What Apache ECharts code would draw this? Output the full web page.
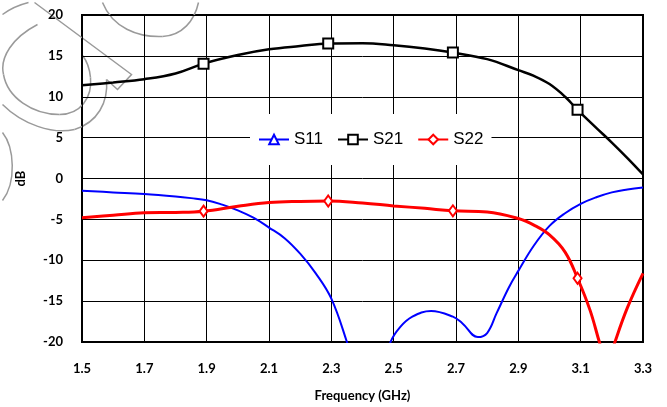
<!DOCTYPE html>
<html>
<head>
<meta charset="utf-8">
<script src="https://cdn.jsdelivr.net/npm/echarts@6/dist/echarts.min.js"></script>
<style>html,body{margin:0;padding:0;background:#fff;}#c{width:667px;height:407px;}</style>
</head>
<body>
<div id="c"></div>
<script>
// ---- data ----
var xTicks = [1.5, 1.7, 1.9, 2.1, 2.3, 2.5, 2.7, 2.9, 3.1, 3.3];

var s11Freq = [1.5, 1.6, 1.7, 1.8, 1.85, 1.9, 1.95, 2.0, 2.05, 2.1, 2.15, 2.2, 2.25, 2.3, 2.35, 2.4, 2.45, 2.49, 2.52, 2.56, 2.62, 2.69, 2.72, 2.77, 2.80, 2.83, 2.87, 2.9, 2.95, 3.0, 3.05, 3.1, 3.15, 3.2, 3.25, 3.3];
var s11Val  = [-1.5, -1.7, -1.9, -2.2, -2.4, -2.65, -3.2, -3.9, -4.8, -6.0, -7.3, -9.2, -11.6, -14.7, -20, -26, -25, -20, -18.2, -16.9, -16.2, -16.9, -17.7, -19.4, -18.9, -16.5, -13.3, -11.3, -8.2, -5.8, -4.25, -3.1, -2.3, -1.7, -1.35, -1.1];

var s21Freq = [1.5, 1.6, 1.7, 1.8, 1.89, 2.0, 2.1, 2.2, 2.29, 2.4, 2.5, 2.6, 2.69, 2.8, 2.9, 2.95, 3.0, 3.05, 3.09, 3.15, 3.2, 3.25, 3.3];
var s21Val  = [11.4, 11.75, 12.15, 12.85, 14.05, 15.1, 15.8, 16.2, 16.5, 16.55, 16.3, 15.9, 15.4, 14.6, 13.25, 12.55, 11.55, 10.0, 8.4, 6.2, 4.4, 2.5, 0.5];

var s22Freq = [1.5, 1.6, 1.7, 1.8, 1.89, 2.0, 2.1, 2.2, 2.29, 2.4, 2.5, 2.6, 2.69, 2.8, 2.9, 2.95, 3.0, 3.05, 3.09, 3.13, 3.16, 3.185, 3.21, 3.25, 3.3];
var s22Val  = [-4.8, -4.5, -4.2, -4.15, -4.0, -3.4, -2.95, -2.8, -2.75, -3.0, -3.35, -3.65, -3.95, -4.1, -4.9, -5.7, -6.9, -9.0, -12.2, -16.1, -20, -23, -20, -15.8, -11.6];

var markerFreqs = [1.89, 2.29, 2.69, 3.09];

function build(freq, val, withMarkers) {
  return freq.map(function (f, i) {
    var isM = withMarkers && markerFreqs.indexOf(f) >= 0;
    return isM ? { value: [f, val[i]] } : { value: [f, val[i]], symbol: 'none' };
  });
}

// decorative grey watermark outline (top-left)
var wmStyle = { fill: null, stroke: '#9a9a9a', lineWidth: 1.5 };
var wmCurves = [
  [104,77, 106,100, 95,120, 72,127], [72,127, 50,132, 20,122, 0,102],
  [35,22, 10,35, -3,55, 1,72], [1,72, 5,95, 30,112, 57,112], [57,112, 78,112, 90,95, 88,75], [88,75, 87,65, 84,58, 80,53],
  [0,130, 12,145, 14,180, 0,198],
  [100,0, 110,25, 135,35, 160,34], [160,34, 180,33, 192,18, 196,0],
  [0,12, 8,6, 18,2, 26,0]
];
var wmChildren = wmCurves.map(function (c) {
  return { type: 'bezierCurve', shape: { x1: c[0], y1: c[1], cpx1: c[2], cpy1: c[3], cpx2: c[4], cpy2: c[5], x2: c[6], y2: c[7] }, style: wmStyle };
});
wmChildren.push({ type: 'polyline', shape: { points: [[32,0],[129,72],[115,87],[104,77]] }, style: wmStyle });

var boldFont = 'Lato, "Open Sans", sans-serif';
var chart = echarts.init(document.getElementById('c'));
chart.setOption({
  animation: false,
  backgroundColor: '#fff',
  graphic: [ { type: 'group', left: 0, top: 0, z: -10, silent: true, children: wmChildren } ],
  grid: { left: 82, right: 24, top: 15, bottom: 65, show: true, borderColor: '#000', borderWidth: 2, backgroundColor: 'transparent' },
  legend: {
    left: 250, top: 114,
    padding: [17, 8, 17, 8],
    itemGap: 14,
    itemWidth: 30, itemHeight: 12,
    backgroundColor: '#fff',
    textStyle: { fontFamily: '"Liberation Sans", Arial, sans-serif', fontSize: 17, color: '#000' },
    data: ['S11', 'S21', 'S22']
  },
  xAxis: {
    type: 'value', min: 1.5, max: 3.3,
    name: 'Frequency (GHz)', nameLocation: 'middle', nameGap: 47,
    nameTextStyle: { fontFamily: boldFont, fontWeight: 'bold', fontSize: 13, color: '#000' },
    axisLine: { show: false },
    axisTick: { show: false, customValues: xTicks },
    axisLabel: { customValues: xTicks, margin: 20, fontFamily: boldFont, fontWeight: 'bold', fontSize: 13, color: '#000', formatter: function (v) { return v.toFixed(1); } },
    splitLine: { show: true, lineStyle: { color: '#000', width: 1 } }
  },
  yAxis: {
    type: 'value', min: -20, max: 20, interval: 5,
    name: 'dB', nameLocation: 'middle', nameGap: 55, nameRotate: 90,
    nameTextStyle: { fontFamily: boldFont, fontWeight: 'bold', fontSize: 13, color: '#000' },
    axisLine: { show: false },
    axisTick: { show: false },
    axisLabel: { margin: 19, fontFamily: boldFont, fontWeight: 'bold', fontSize: 13, color: '#000' },
    splitLine: { show: true, lineStyle: { color: '#000', width: 1 } }
  },
  series: [
    { name: 'S11', type: 'line', smooth: 0.4, clip: true,
      symbol: 'triangle', symbolSize: 9, showAllSymbol: true,
      lineStyle: { color: '#0000ff', width: 2 },
      itemStyle: { color: '#fff', borderColor: '#0000ff', borderWidth: 1.5 },
      data: build(s11Freq, s11Val, false) },
    { name: 'S21', type: 'line', smooth: 0.4, clip: true,
      symbol: 'rect', symbolSize: 10, showAllSymbol: true,
      lineStyle: { color: '#000', width: 2.5 },
      itemStyle: { color: '#fff', borderColor: '#000', borderWidth: 2 },
      data: build(s21Freq, s21Val, true) },
    { name: 'S22', type: 'line', smooth: 0.4, clip: true,
      symbol: 'diamond', symbolSize: [8, 11], showAllSymbol: true,
      lineStyle: { color: '#ff0000', width: 3 },
      itemStyle: { color: '#fff', borderColor: '#ff0000', borderWidth: 2 },
      data: build(s22Freq, s22Val, true) }
  ]
});
</script>
</body>
</html>
